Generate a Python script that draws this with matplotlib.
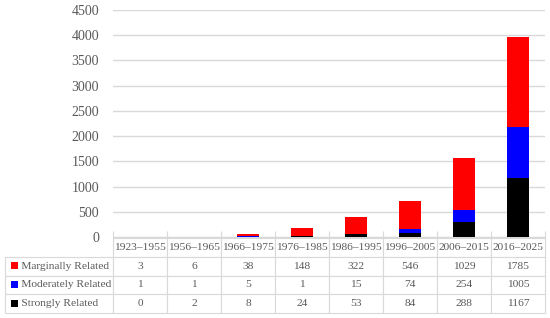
import matplotlib
matplotlib.use('Agg')
import matplotlib.pyplot as plt
from matplotlib.patches import Rectangle
import numpy as np

periods = ['1923–1955', '1956–1965', '1966–1975', '1976–1985',
           '1986–1995', '1996–2005', '2006–2015', '2016–2025']
marginally = [3, 6, 38, 148, 322, 546, 1029, 1785]
moderately = [1, 1, 5, 1, 15, 74, 254, 1005]
strongly = [0, 2, 8, 24, 53, 84, 288, 1167]

series_names = ['Marginally Related', 'Moderately Related', 'Strongly Related']
series_colors = ['#ff0000', '#0000ff', '#000000']

plt.rcParams['font.family'] = ['Liberation Serif', 'DejaVu Serif']
text_gray = '#595959'
line_gray = '#d9d9d9'

W, H = 550, 318
fig = plt.figure(figsize=(W / 100, H / 100), dpi=100)
ax_l, ax_r, ax_t, ax_b = 113, 545, 10, 237
ax = fig.add_axes([ax_l / W, 1 - ax_b / H, (ax_r - ax_l) / W, (ax_b - ax_t) / H])

x = np.arange(len(periods))
width = 0.39
s = np.array(strongly)
m = np.array(moderately)
g = np.array(marginally)
ax.bar(x, s, width, color=series_colors[2], zorder=3)
ax.bar(x, m, width, bottom=s, color=series_colors[1], zorder=3)
ax.bar(x, g, width, bottom=s + m, color=series_colors[0], zorder=3)

ax.set_xlim(-0.5, len(periods) - 0.5)
ax.set_ylim(0, 4500)
ax.set_yticks(np.arange(0, 4501, 500))
ax.tick_params(axis='y', length=0, labelsize=10, labelcolor=text_gray, pad=10)
ax.set_xticks(np.arange(-0.5, len(periods), 1))
ax.set_xticklabels([])
ax.tick_params(axis='x', length=4, color=line_gray, direction='in')
ax.grid(axis='y', color=line_gray, linewidth=1, zorder=0)
for sp in ['top', 'right', 'left']:
    ax.spines[sp].set_visible(False)
ax.spines['bottom'].set_color(line_gray)

# Data table below the chart (label column built as first column)
cell_text = [['     ' + name] + [str(v) for v in vals]
             for name, vals in zip(series_names, [marginally, moderately, strongly])]
tb_left, tb_right, tb_top, tb_bot = 5, 545, 238, 313
ax_w, ax_h = ax_r - ax_l, ax_b - ax_t
bbox = [(tb_left - ax_l) / ax_w, (ax_b - tb_bot) / ax_h,
        (tb_right - tb_left) / ax_w, (tb_bot - tb_top) / ax_h]
table = ax.table(cellText=cell_text, colLabels=[''] + periods,
                 cellLoc='center', colWidths=[108 / 540] + [54 / 540] * 8,
                 bbox=bbox)
table.auto_set_font_size(False)
table.set_fontsize(8.2)
for (r, c), cell in table.get_celld().items():
    cell.set_edgecolor(line_gray)
    cell.set_linewidth(0.8)
    cell.get_text().set_color(text_gray)
    cell.PAD = 0.02
    if c == 0:
        cell.get_text().set_horizontalalignment('left')
        cell._loc = 'left'
table[0, 0].set_visible(False)

# legend keys in the row label cells
row_h = 19
for i, col in enumerate(series_colors):
    yc = 256 + row_h * i + row_h / 2
    fig.patches.append(Rectangle((11 / W, 1 - (yc + 3.5) / H), 7 / W, 7 / H,
                                 transform=fig.transFigure, facecolor=col,
                                 edgecolor='none'))

fig.savefig('out.png', dpi=100)
